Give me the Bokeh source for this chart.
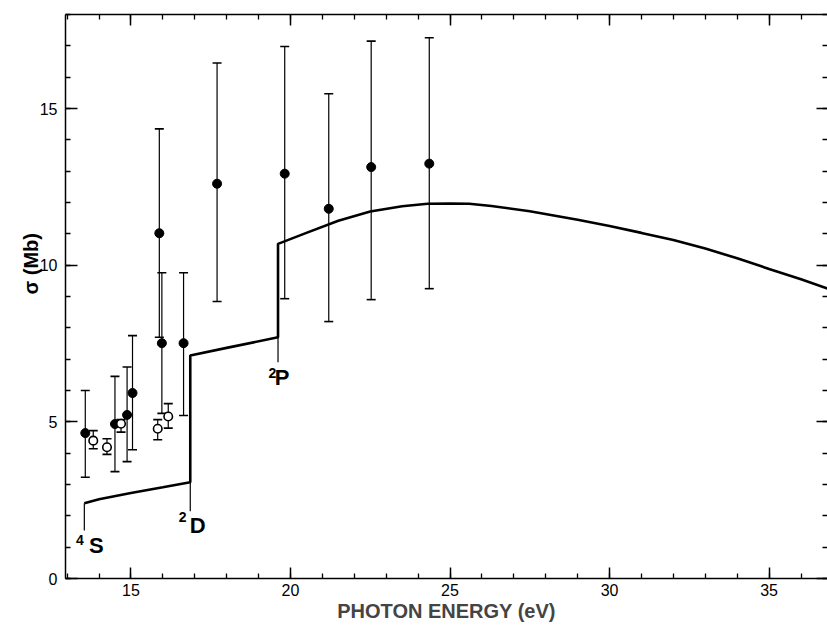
import math
from bokeh.plotting import figure
from bokeh.models import (Range1d, SingleIntervalTicker, LinearAxis, ColumnDataSource, Title)
from bokeh.embed import file_html
from bokeh.resources import INLINE
from bokeh.core.properties import value

# ---- data ----
# theoretical cross-section curve (photon energy eV, sigma Mb)
curve_energy = [13.54, 14.0, 15.0, 16.0, 16.86, 16.86, 18.0, 19.61, 19.61, 20.5, 21.5,
                22.5, 23.5, 24.3, 25.0, 25.6, 26.3, 27.5, 29.0, 30.0, 31.0, 32.0,
                33.0, 34.0, 35.0, 36.0, 36.83]
curve_sigma = [2.40, 2.53, 2.73, 2.91, 3.07, 7.12, 7.36, 7.70, 10.68, 11.03, 11.42,
               11.71, 11.88, 11.96, 11.97, 11.96, 11.89, 11.72, 11.45, 11.25, 11.03, 10.80,
               10.53, 10.22, 9.88, 9.55, 9.25]

# ionisation thresholds (marker lines under the steps)
threshold_energy = [13.54, 16.86, 19.61]
threshold_top = [2.40, 3.07, 7.70]
threshold_bottom = [1.53, 2.15, 6.90]
state_letter = ["S", "D", "P"]
state_mult = ["4", "2", "2"]
letter_x = [13.92, 17.09, 19.74]
letter_y = [1.04, 1.69, 6.43]
mult_x = [13.40, 16.62, 19.43]
mult_y = [1.22, 1.95, 6.57]

# measured points, filled symbols
filled_energy = [13.57, 14.50, 14.88, 15.05, 15.89, 15.97, 16.65, 17.70, 19.82, 21.20, 22.53, 24.35]
filled_sigma = [4.64, 4.93, 5.22, 5.92, 11.02, 7.51, 7.51, 12.60, 12.92, 11.80, 13.13, 13.24]
filled_low = [3.23, 3.41, 3.73, 4.11, 7.70, 5.27, 5.20, 8.84, 8.93, 8.20, 8.90, 9.25]
filled_high = [6.00, 6.45, 6.75, 7.75, 14.35, 9.76, 9.76, 16.45, 16.98, 15.47, 17.15, 17.26]

# measured points, open symbols
open_energy = [13.82, 14.25, 14.69, 15.84, 16.17]
open_sigma = [4.40, 4.19, 4.94, 4.78, 5.17]
open_low = [4.14, 3.96, 4.67, 4.43, 4.80]
open_high = [4.72, 4.46, 5.07, 5.07, 5.58]

x_ticks_major = 5
y_ticks_major = 5

FONT = "Liberation Sans"

p = figure(width=827, height=627, output_backend="svg", toolbar_location=None,
           x_range=Range1d(12.95, 36.83), y_range=Range1d(0, 18),
           min_border_left=65, min_border_right=0, min_border_top=14, min_border_bottom=49)
p.xgrid.visible = False
p.ygrid.visible = False
p.outline_line_color = None
p.background_fill_color = "white"
p.border_fill_color = "white"


def style_axis(ax, ticker, labels=True):
    ax.ticker = ticker
    ax.axis_line_color = "black"
    ax.axis_line_width = 1.5
    ax.major_tick_line_color = "black"
    ax.major_tick_line_width = 1.5
    ax.minor_tick_line_color = "black"
    ax.minor_tick_line_width = 1.3
    ax.major_tick_in = 11
    ax.major_tick_out = 0
    ax.minor_tick_in = 5
    ax.minor_tick_out = 0
    if labels:
        ax.major_label_text_font = FONT
        ax.major_label_text_font_size = "16px"
        ax.major_label_text_color = "black"
    else:
        ax.major_label_text_font_size = "1px"
        ax.major_label_text_color = None
        ax.major_label_standoff = 0


xt = SingleIntervalTicker(interval=x_ticks_major, num_minor_ticks=5)
yt = SingleIntervalTicker(interval=y_ticks_major, num_minor_ticks=5)

style_axis(p.xaxis[0], xt)
p.xaxis[0].major_label_standoff = 5
p.xaxis[0].axis_label = "PHOTON ENERGY (eV)"
p.xaxis[0].axis_label_text_font = FONT
p.xaxis[0].axis_label_text_font_style = "bold"
p.xaxis[0].axis_label_text_font_size = "20px"
p.xaxis[0].axis_label_standoff = 1

style_axis(p.yaxis[0], yt)
p.yaxis[0].major_label_standoff = 8
p.yaxis[0].major_tick_in = 12

top = LinearAxis()
style_axis(top, SingleIntervalTicker(interval=x_ticks_major, num_minor_ticks=5), labels=False)
p.add_layout(top, "above")

right = LinearAxis()
style_axis(right, SingleIntervalTicker(interval=y_ticks_major, num_minor_ticks=5), labels=False)
right.axis_line_color = None
p.add_layout(right, "right")

# y axis title
ytitle = Title(text="σ (Mb)", align="left", offset=284, standoff=-10, text_font=FONT,
               text_font_style="bold", text_font_size="20px", text_color="black")
p.add_layout(ytitle, "left")

# theory curve
p.line(curve_energy, curve_sigma, line_color="black", line_width=2.6)
p.segment(x0=threshold_energy, y0=threshold_top, x1=threshold_energy, y1=threshold_bottom,
          line_color="black", line_width=1.2)

# error bars
all_e = filled_energy + open_energy
all_lo = filled_low + open_low
all_hi = filled_high + open_high
p.segment(x0=all_e, y0=all_lo, x1=all_e, y1=all_hi, line_color="black", line_width=1.2)
p.scatter(all_e, all_lo, marker="dash", size=9, line_color="black", line_width=1.6)
p.scatter(all_e, all_hi, marker="dash", size=9, line_color="black", line_width=1.6)

# symbols
p.scatter(filled_energy, filled_sigma, marker="circle", size=9, fill_color="black", line_color="black")
p.scatter(open_energy, open_sigma, marker="circle", size=8.5, fill_color="white",
          line_color="black", line_width=1.6)

# state labels
src_l = ColumnDataSource(dict(x=letter_x, y=letter_y, t=state_letter))
src_m = ColumnDataSource(dict(x=mult_x, y=mult_y, t=state_mult))
p.text(x="x", y="y", text="t", source=src_l, text_font=value(FONT), text_font_style="bold",
       text_font_size="22px", text_align="center", text_baseline="middle", text_color="black")
p.text(x="x", y="y", text="t", source=src_m, text_font=value(FONT), text_font_style="bold",
       text_font_size="14px", text_align="center", text_baseline="middle", text_color="black")

open("out.html", "w").write(file_html(p, INLINE))
